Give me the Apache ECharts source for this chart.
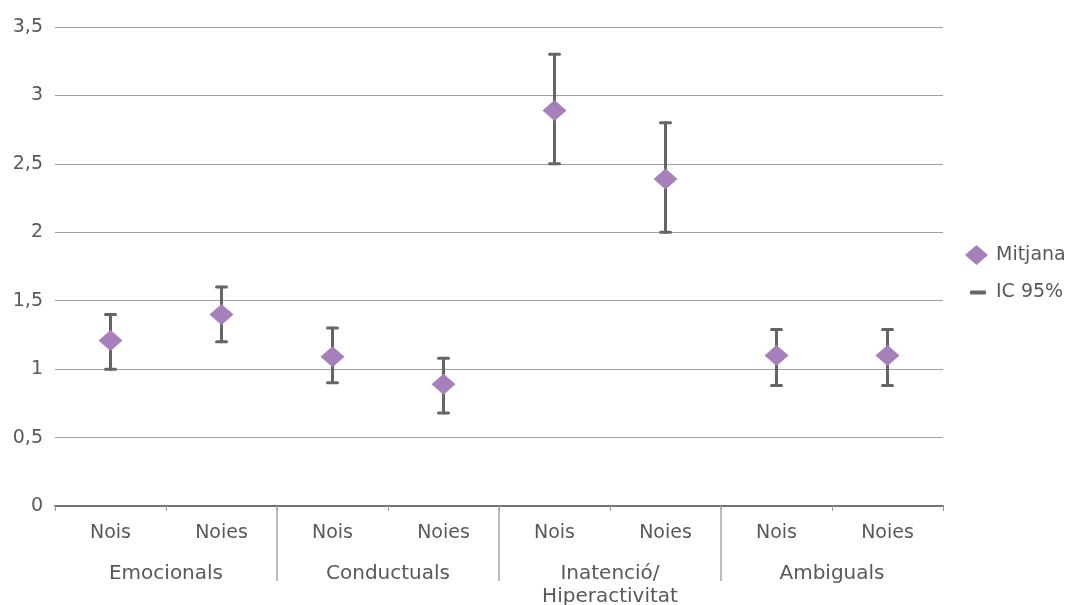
<!DOCTYPE html>
<html>
<head>
<meta charset="utf-8">
<script src="https://cdn.jsdelivr.net/npm/echarts@6/dist/echarts.min.js"></script>
<style>
html,body{margin:0;padding:0;background:#fff;}
#chart{width:1077px;height:605px;}
</style>
</head>
<body>
<div id="chart"></div>
<script>
const categories = ['Nois','Noies','Nois','Noies','Nois','Noies','Nois','Noies'];
const groups = ['Emocionals','Conductuals','Inatenció/\nHiperactivitat','Ambiguals'];
const groupSizes = [2,2,2,2];
const means = [1.21, 1.40, 1.09, 0.89, 2.89, 2.39, 1.10, 1.10];
const lows  = [1.00, 1.20, 0.90, 0.68, 2.50, 2.00, 0.88, 0.88];
const highs = [1.40, 1.60, 1.30, 1.08, 3.30, 2.80, 1.29, 1.29];
const yTicks = [0, 0.5, 1, 1.5, 2, 2.5, 3, 3.5];

const FONT = 'DejaVu Sans';
const TXT = '#595959';

// group boundaries (category index where a new group starts)
const boundaries = [];
let acc = 0;
groupSizes.forEach((s, i) => { acc += s; if (i < groupSizes.length - 1) boundaries.push([acc, 0]); });

const chart = echarts.init(document.getElementById('chart'));
chart.setOption({
  animation: false,
  grid: {left: 55, right: 134, top: 27, bottom: 99, containLabel: false, outerBoundsMode: 'none'},
  legend: [
    {data: [{name: 'Mitjana', icon: 'diamond'}], orient: 'vertical', left: 960, top: 240,
     itemWidth: 23, itemHeight: 20,
     textStyle: {color: TXT, fontSize: 19, fontFamily: FONT, padding: [0,0,0,3]}},
    {data: [{name: 'IC 95%', icon: 'roundRect'}], orient: 'vertical', left: 965, top: 278,
     itemWidth: 16, itemHeight: 4,
     textStyle: {color: TXT, fontSize: 19, fontFamily: FONT, padding: [0,0,0,5]}}
  ],
  xAxis: [
    {type: 'category', data: categories, position: 'bottom',
     axisLine: {show: true, lineStyle: {color: '#737373', width: 2}},
     axisTick: {show: true, length: 5, lineStyle: {color: '#9a9a9a', width: 1}},
     axisLabel: {interval: 0, margin: 18, color: TXT, fontSize: 19, fontFamily: FONT},
     splitLine: {show: false}},
    {type: 'category', data: groups, position: 'bottom', gridIndex: 0,
     axisLine: {show: false}, axisTick: {show: false},
     axisLabel: {interval: 0, margin: 56, color: TXT, fontSize: 20, fontFamily: FONT, lineHeight: 23},
     splitLine: {show: false}}
  ],
  yAxis: {
    type: 'value', min: 0, max: 3.5, interval: 0.5,
    axisLine: {show: false}, axisTick: {show: false},
    splitLine: {lineStyle: {color: '#a3a3a3', width: 1}},
    axisLabel: {margin: 12, color: TXT, fontSize: 19, fontFamily: FONT,
      formatter: v => (yTicks.includes(v) ? String(v).replace('.', ',') : '')}
  },
  series: [
    {
      name: 'IC 95%', type: 'custom', xAxisIndex: 0, yAxisIndex: 0, z: 2,
      itemStyle: {color: '#656565'},
      encode: {x: 0, y: [1, 2]},
      data: categories.map((c, i) => [i, lows[i], highs[i]]),
      renderItem: function (params, api) {
        const x = api.value(0);
        const lo = api.coord([x, api.value(1)]);
        const hi = api.coord([x, api.value(2)]);
        const hw = 5;
        const style = {stroke: '#656565', lineWidth: 3, lineCap: 'round'};
        return {type: 'group', children: [
          {type: 'line', shape: {x1: lo[0], y1: lo[1], x2: hi[0], y2: hi[1]}, style: style},
          {type: 'line', shape: {x1: lo[0] - hw, y1: lo[1], x2: lo[0] + hw, y2: lo[1]}, style: style},
          {type: 'line', shape: {x1: hi[0] - hw, y1: hi[1], x2: hi[0] + hw, y2: hi[1]}, style: style}
        ]};
      }
    },
    {
      name: 'Mitjana', type: 'scatter', xAxisIndex: 0, yAxisIndex: 0, z: 3,
      symbol: 'diamond', symbolSize: [24, 21],
      itemStyle: {color: '#a680bb', opacity: 1},
      data: means
    },
    {
      name: 'sep', type: 'custom', xAxisIndex: 0, yAxisIndex: 0, silent: true, clip: false, z: 1,
      encode: {x: 0, y: 1},
      data: boundaries,
      renderItem: function (params, api) {
        const p = api.coord([api.value(0), 0]);
        const bw = api.size([1, 0])[0];
        const x = p[0] - bw / 2;
        return {type: 'line', shape: {x1: x, y1: p[1], x2: x, y2: p[1] + 75},
                style: {stroke: '#a6a6a6', lineWidth: 1.5}};
      }
    }
  ]
});
</script>
</body>
</html>
